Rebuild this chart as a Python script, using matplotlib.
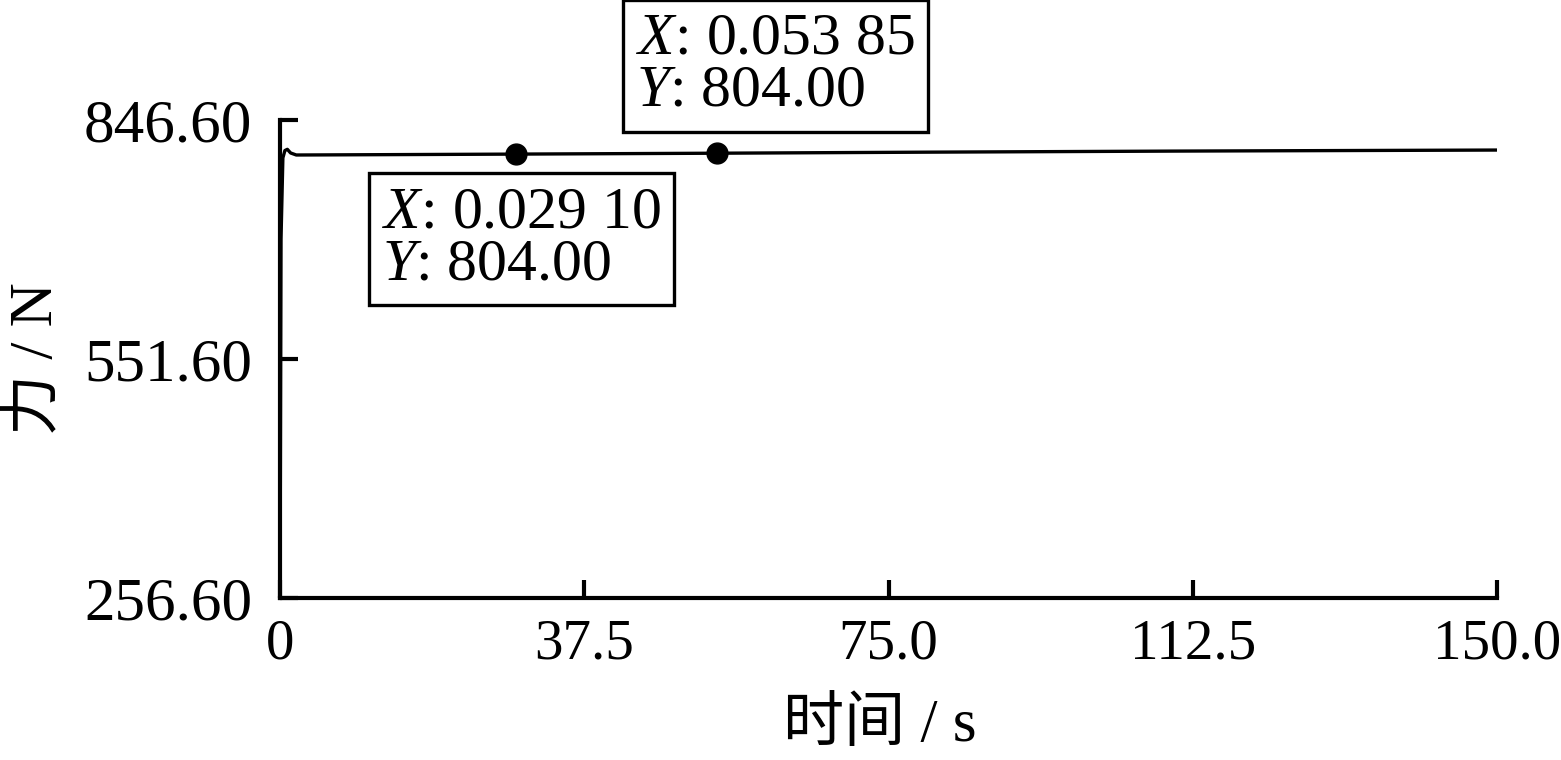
import matplotlib
matplotlib.use('Agg')
import matplotlib.pyplot as plt
import numpy as np

# force curve
time_s = [0, 0.12, 0.35, 0.6, 0.9, 1.3, 2.0, 5.0, 15.0, 29.1, 53.85, 80.0, 110.0, 150.0]
force_n = [256.6, 700.0, 800.0, 809.0, 810.5, 806.0, 803.5, 803.6, 804.0, 804.6, 805.7, 807.0, 808.3, 809.6]

# data cursor points
marker_x = [29.1, 53.85]
marker_y = [804.6, 805.7]
marker_text = ['$\\mathit{X}$: 0.029 10\n$\\mathit{Y}$: 804.00',
               '$\\mathit{X}$: 0.053 85\n$\\mathit{Y}$: 804.00']
# top-left corners of the data-tip boxes (data coords)
box_pos = [(12.6, 765.0), (43.9, 979.0)]

x_ticks = [0, 37.5, 75.0, 112.5, 150.0]
x_tick_labels = ['0', '37.5', '75.0', '112.5', '150.0']
y_ticks = [256.6, 551.6, 846.6]
y_tick_labels = ['256.60', '551.60', '846.60']

plt.rcParams['font.family'] = ['Liberation Serif', 'Noto Sans CJK SC']
plt.rcParams['mathtext.fontset'] = 'custom'
plt.rcParams['mathtext.rm'] = 'Liberation Serif'
plt.rcParams['mathtext.it'] = 'Liberation Serif:italic'

fig = plt.figure(figsize=(15.61, 7.6), dpi=100)
ax = fig.add_axes([0.1794, 0.2132, 0.959 - 0.1794, 0.842 - 0.2132])

ax.plot(time_s, force_n, color='black', lw=2.4)
ax.plot(marker_x, marker_y, 'o', color='black', ms=15)

for (bx, by), txt in zip(box_pos, marker_text):
    ax.text(bx, by, txt, fontsize=43, ha='left', va='top', linespacing=0.95,
            clip_on=False,
            bbox=dict(boxstyle='square,pad=0.22', fc='white', ec='black', lw=2.4))

ax.set_xlim(0, 150)
ax.set_ylim(256.6, 846.6)
ax.set_xticks(x_ticks)
ax.set_xticklabels(x_tick_labels)
ax.set_yticks(y_ticks)
ax.set_yticklabels(y_tick_labels)

for side in ['top', 'right']:
    ax.spines[side].set_visible(False)
for side in ['left', 'bottom']:
    ax.spines[side].set_linewidth(3)

ax.tick_params(direction='in', length=13, width=3)
ax.tick_params(axis='y', pad=20, labelsize=44)
ax.tick_params(axis='x', pad=15, labelsize=41)

ax.set_xlabel('时间 / s', fontsize=44)
ax.xaxis.set_label_coords(0.493, -0.21)
ax.set_ylabel('力 / N', fontsize=44, labelpad=14)

fig.savefig('out.png', dpi=100)
